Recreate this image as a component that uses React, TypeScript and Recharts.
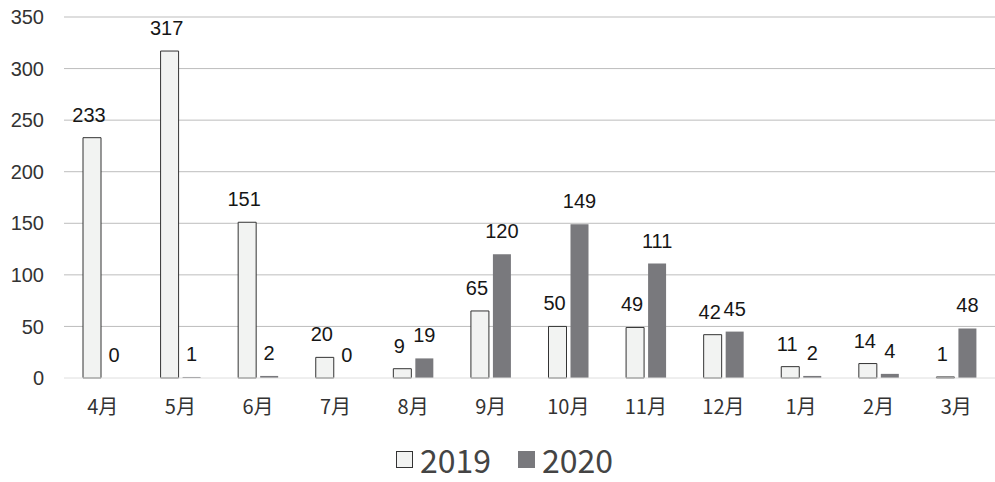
import { BarChart, Bar, XAxis, YAxis, CartesianGrid, Legend, LabelList } from 'recharts';

const months = ['4月', '5月', '6月', '7月', '8月', '9月', '10月', '11月', '12月', '1月', '2月', '3月'];
const y2019 = [233, 317, 151, 20, 9, 65, 50, 49, 42, 11, 14, 1];
const y2020 = [0, 1, 2, 0, 19, 120, 149, 111, 45, 2, 4, 48];
const yTicks = [0, 50, 100, 150, 200, 250, 300, 350];

const data = months.map((m, i) => ({ month: m, y2019: y2019[i], y2020: y2020[i] }));

const JP = '"Noto Sans CJK JP", "Noto Sans", sans-serif';
const SANS = 'Arial, "Liberation Sans", sans-serif';

// value labels sit above each bar; 2019 ones lean a little left like the original
const makeLabel = (dx: number) => (props: any) => {
  const { x, y, width, value } = props;
  return (
    <text
      x={Number(x) + Number(width) / 2 + dx}
      y={Number(y) - 16}
      textAnchor="middle"
      fontSize={20}
      fontFamily={SANS}
      fill="#161616"
    >
      {value}
    </text>
  );
};

// keep zero-height bars in the rectangle list so their "0" labels still render
const keepZero = (value: any) => (value === 0 ? 0.01 : 0);

function LegendBox() {
  return (
    <div
      style={{
        display: 'flex',
        justifyContent: 'center',
        alignItems: 'center',
        gap: 27,
        fontFamily: JP,
        fontSize: 32,
        color: '#444',
        height: 38,
        lineHeight: '38px',
        paddingLeft: 14,
      }}
    >
      <span style={{ display: 'flex', alignItems: 'center', gap: 7 }}>
        <span style={{ width: 15, height: 15, background: '#f2f3f2', border: '1px solid #333', display: 'inline-block' }} />
        2019
      </span>
      <span style={{ display: 'flex', alignItems: 'center', gap: 7 }}>
        <span style={{ width: 17, height: 17, background: '#79797d', display: 'inline-block' }} />
        2020
      </span>
    </div>
  );
}

export default function App() {
  return (
    <div style={{ position: 'absolute', left: 0, top: 0, background: '#fff' }}>
      <BarChart
        width={995}
        height={482}
        data={data}
        margin={{ top: 17, right: 0, bottom: 4, left: 0 }}
        barSize={18}
        barGap={4}
      >
        <CartesianGrid vertical={false} horizontalValues={yTicks.slice(1)} stroke="#bdbdbd" />
        <XAxis
          dataKey="month"
          tickLine={false}
          axisLine={{ stroke: '#dedede' }}
          tickSize={0}
          tickMargin={22}
          height={62}
          tick={{ fontSize: 20, fill: '#333', fontFamily: JP }}
        />
        <YAxis
          domain={[0, 350]}
          ticks={yTicks}
          tickLine={false}
          axisLine={false}
          tickSize={0}
          tickMargin={20}
          width={64}
          tick={{ fontSize: 20, fill: '#333', fontFamily: SANS }}
        />
        <Legend verticalAlign="bottom" content={() => <LegendBox />} />
        <Bar
          dataKey="y2019"
          name="2019"
          fill="#f2f3f2"
          stroke="#333"
          strokeWidth={1}
          minPointSize={keepZero}
          isAnimationActive={false}
        >
          <LabelList dataKey="y2019" content={makeLabel(-3)} />
        </Bar>
        <Bar dataKey="y2020" name="2020" fill="#79797d" minPointSize={keepZero} isAnimationActive={false}>
          <LabelList dataKey="y2020" content={makeLabel(0)} />
        </Bar>
      </BarChart>
    </div>
  );
}
